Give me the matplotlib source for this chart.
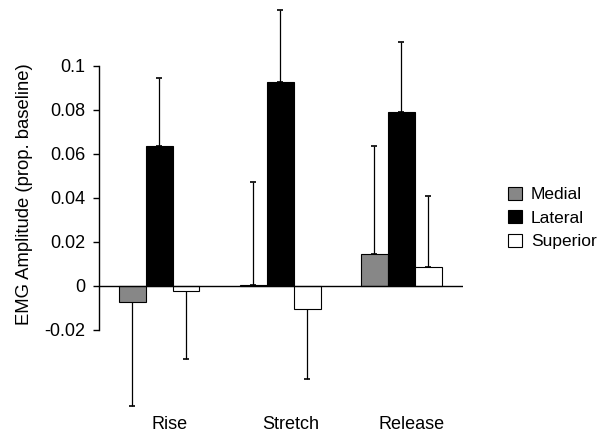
import matplotlib.pyplot as plt
import numpy as np

plt.rcParams['font.family'] = ['Liberation Sans', 'DejaVu Sans']

phases = ["Rise", "Stretch", "Release"]
series = ["Medial", "Lateral", "Superior"]
colors = ["#878787", "#000000", "#ffffff"]

medial = [-0.0075, 0.0003, 0.0145]
lateral = [0.0635, 0.0925, 0.079]
superior = [-0.0023, -0.0105, 0.0088]

medial_err = [0.047, 0.047, 0.049]
lateral_err = [0.031, 0.033, 0.032]
superior_err = [0.031, 0.032, 0.032]

values = [medial, lateral, superior]
errors = [medial_err, lateral_err, superior_err]

yticks = [-0.02, 0, 0.02, 0.04, 0.06, 0.08, 0.1]
ytick_labels = ["-0.02", "0", "0.02", "0.04", "0.06", "0.08", "0.1"]

fig = plt.figure(figsize=(6.02, 4.33), dpi=100)
ax = fig.add_axes([99 / 602, 23 / 433, (463 - 99) / 602, 405 / 433])

x = np.arange(len(phases))
w = 0.223
for i, (vals, errs, c, name) in enumerate(zip(values, errors, colors, series)):
    xs = x + (i - 1) * w
    ax.bar(xs, vals, width=w, color=c, edgecolor="black", linewidth=0.8,
           label=name, zorder=2)
    lo = [e if v < 0 else 0 for v, e in zip(vals, errs)]
    hi = [e if v >= 0 else 0 for v, e in zip(vals, errs)]
    ax.errorbar(xs, vals, yerr=[lo, hi], fmt="none", ecolor="black",
                elinewidth=0.9, capsize=2, capthick=1.2, zorder=1)

ax.axhline(0, color="black", linewidth=1, zorder=3)

ax.set_xlim(-0.496, 2.512)
ax.set_ylim(-0.0564, 0.1277)
ax.set_xticks(x + 0.09)
ax.set_xticklabels(phases, fontsize=13)
ax.tick_params(axis="x", length=0, pad=4)
ax.set_yticks(yticks)
ax.set_yticklabels(ytick_labels, fontsize=13)
ax.tick_params(axis="y", direction="out", length=4, width=1, pad=6)

for s in ["top", "right", "bottom"]:
    ax.spines[s].set_visible(False)
ax.spines["left"].set_bounds(-0.02, 0.1)
ax.spines["left"].set_linewidth(1)

ax.set_ylabel("EMG Amplitude (prop. baseline)", fontsize=13.3)
ax.yaxis.set_label_coords(-0.181, 0.533)

ax.legend(loc="center left", bbox_to_anchor=(499 / 602, 1 - 218 / 433),
          bbox_transform=fig.transFigure, frameon=False, fontsize=12.5,
          borderpad=0, handlelength=0.8, handleheight=0.8,
          handletextpad=0.55, labelspacing=0.45)

fig.savefig("out.png", dpi=100)
